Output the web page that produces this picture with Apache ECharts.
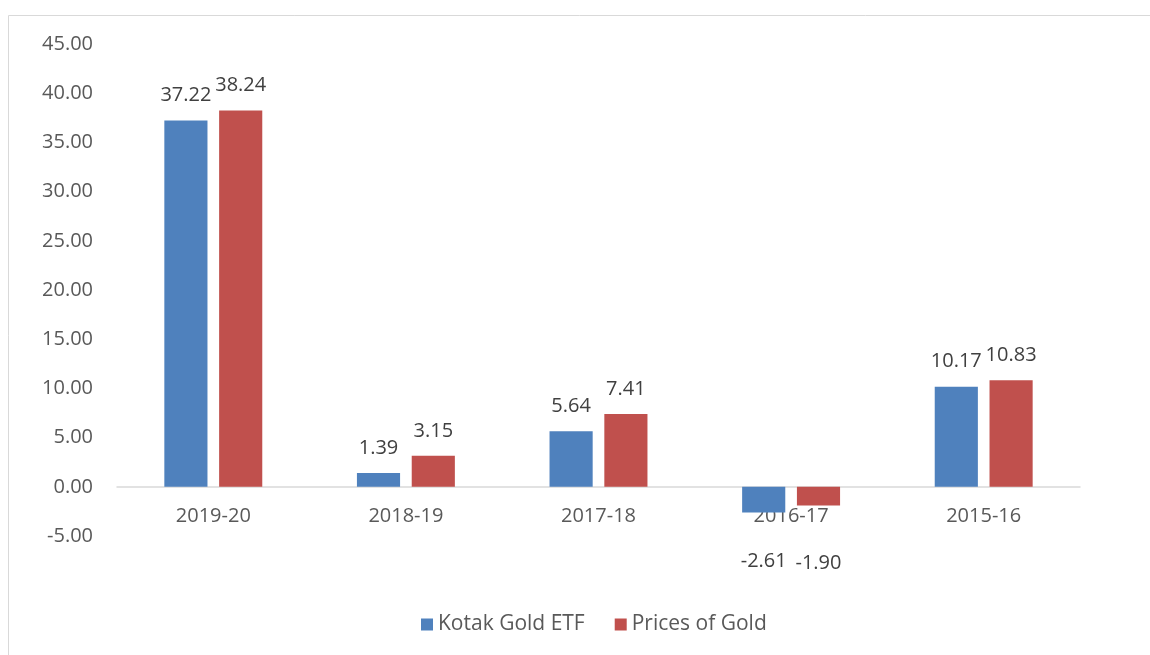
<!DOCTYPE html>
<html>
<head>
<meta charset="utf-8">
<script src="https://cdn.jsdelivr.net/npm/echarts@6/dist/echarts.min.js"></script>
<style>
  html, body { margin: 0; padding: 0; background: #fff; }
  #chart { width: 1150px; height: 655px; }
</style>
</head>
<body>
<div id="chart"></div>
<script>
var years = ["2019-20", "2018-19", "2017-18", "2016-17", "2015-16"];
var kotakEtf = [37.22, 1.39, 5.64, -2.61, 10.17];
var goldPrices = [38.24, 3.15, 7.41, -1.90, 10.83];
var seriesNames = ["Kotak Gold ETF", "Prices of Gold"];

var font = "'Open Sans', 'Liberation Sans', sans-serif";

// negative bars get their label pushed below the bar, like the excel one
function toItems(list, dist) {
  return list.map(function (v) {
    if (v < 0) {
      return { value: v, label: { position: "bottom", distance: dist } };
    }
    return v;
  });
}

var myChart = echarts.init(document.getElementById("chart"));

var option = {
  animation: false,
  color: ["#4F81BD", "#C0504D"],
  graphic: [
    {
      type: "rect",
      shape: { x: 8.5, y: 15.5, width: 1160, height: 660 },
      style: { fill: null, stroke: "#D9D9D9", lineWidth: 1 },
      silent: true
    }
  ],
  grid: {
    left: 117,
    right: 70,
    top: 44,
    bottom: 119
  },
  legend: {
    bottom: 15,
    left: 416,
    itemWidth: 12,
    itemHeight: 12,
    itemGap: 30,
    icon: "rect",
    textStyle: { color: "#595959", fontSize: 21, fontFamily: font },
    data: seriesNames
  },
  xAxis: {
    type: "category",
    data: years,
    axisLine: { onZero: true, lineStyle: { color: "#D9D9D9", width: 1.5 } },
    axisTick: { show: false },
    // labels sit just under the zero line, not at the grid bottom
    axisLabel: { color: "#595959", fontSize: 20, fontFamily: font, margin: -30 }
  },
  yAxis: {
    type: "value",
    min: -5,
    max: 45,
    interval: 5,
    axisLine: { show: false },
    axisTick: { show: false },
    splitLine: { show: false },
    axisLabel: {
      color: "#595959",
      fontSize: 20,
      fontFamily: font,
      margin: 24,
      formatter: function (v) { return v.toFixed(2); }
    }
  },
  series: [
    {
      name: seriesNames[0],
      type: "bar",
      data: toItems(kotakEtf, 39),
      barWidth: "22.4%",
      barGap: "27%",
      label: {
        show: true,
        position: "top",
        distance: 15,
        color: "#404040",
        fontSize: 20,
        fontFamily: font,
        formatter: function (p) { return p.value.toFixed(2); }
      }
    },
    {
      name: seriesNames[1],
      type: "bar",
      data: toItems(goldPrices, 48),
      barWidth: "22.4%",
      label: {
        show: true,
        position: "top",
        distance: 15,
        color: "#404040",
        fontSize: 20,
        fontFamily: font,
        formatter: function (p) { return p.value.toFixed(2); }
      }
    }
  ]
};

myChart.setOption(option);
</script>
</body>
</html>
